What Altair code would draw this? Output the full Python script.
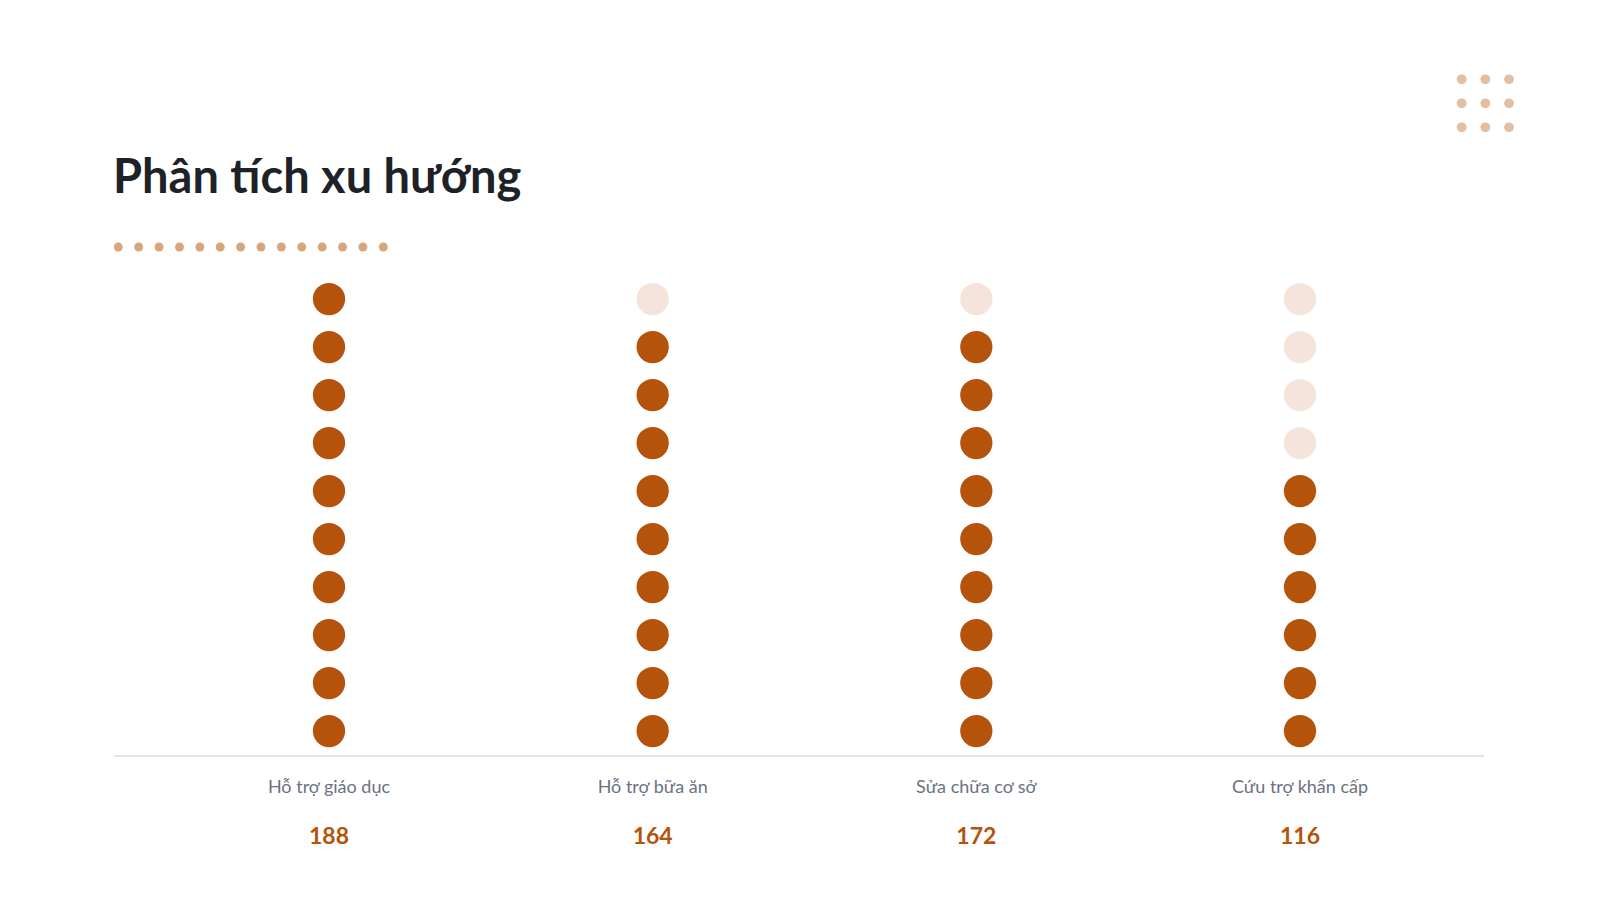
import altair as alt
import pandas as pd

categories = ["Hỗ trợ giáo dục", "Hỗ trợ bữa ăn", "Sửa chữa cơ sở", "Cứu trợ khẩn cấp"]
values = [188, 164, 172, 116]
title_text = "Phân tích xu hướng"
n_rows = 10

FILLED = "#b5530b"
EMPTY = "#f5e4db"
ACCENT = "#d9a57a"
GRID = "#e4bea0"
FONT = "Lato"

vmax = max(values)
rows = []
for c, v in zip(categories, values):
    k = round(v / vmax * n_rows)
    for r in range(1, n_rows + 1):
        rows.append({"cat": c, "row": r, "on": "on" if r <= k else "off"})
dots_df = pd.DataFrame(rows)
lab_df = pd.DataFrame({"cat": categories, "val": [str(v) for v in values]})

xcat = alt.X("cat:N", sort=categories, axis=None,
             scale=alt.Scale(type="point", domain=categories, range=[321, 1292], padding=0))

dots = alt.Chart(dots_df).mark_circle(size=1040, opacity=1).encode(
    x=xcat,
    y=alt.Y("row:Q", axis=None, scale=alt.Scale(domain=[1, n_rows], range=[723, 291])),
    color=alt.Color("on:N", legend=None,
                    scale=alt.Scale(domain=["on", "off"], range=[FILLED, EMPTY])),
)

labels = alt.Chart(lab_df).mark_text(font=FONT, fontSize=18, color="#6b7280",
                                     baseline="alphabetic", align="center").encode(
    x=xcat, y=alt.value(785), text="cat:N")

vals = alt.Chart(lab_df).mark_text(font=FONT, fontSize=23, fontWeight="bold", color=FILLED,
                                   baseline="alphabetic", align="center").encode(
    x=xcat, y=alt.value(836), text="val:N")

base_line = alt.Chart(pd.DataFrame({"a": [0]})).mark_rule(color="#dcdcdc", strokeWidth=1.5).encode(
    x=alt.value(106), x2=alt.value(1476), y=alt.value(748))

title = alt.Chart(pd.DataFrame({"t": [title_text]})).mark_text(
    font=FONT, fontSize=47, fontWeight="bold", color="#1e2228",
    align="left", baseline="alphabetic").encode(
    x=alt.value(105), y=alt.value(185), text="t:N")

accent_df = pd.DataFrame({"i": list(range(14))})
accent = alt.Chart(accent_df).mark_circle(size=80, color=ACCENT, opacity=1).encode(
    x=alt.X("i:Q", axis=None, scale=alt.Scale(domain=[0, 13], range=[110.3, 375.3])),
    y=alt.value(239))

grid_df = pd.DataFrame([{"gx": i, "gy": j} for i in range(3) for j in range(3)])
grid = alt.Chart(grid_df).mark_circle(size=95, color=GRID, opacity=1).encode(
    x=alt.X("gx:Q", axis=None, scale=alt.Scale(domain=[0, 2], range=[1453.7, 1501])),
    y=alt.Y("gy:Q", axis=None, scale=alt.Scale(domain=[0, 2], range=[71.3, 119.3])))

chart = alt.layer(base_line, dots, labels, vals, title, accent, grid).resolve_scale(
    x="independent", y="independent", color="independent"
).properties(
    width=1582, height=884, padding=0, autosize=alt.AutoSizeParams(type="none"),
    background="white"
).configure_view(stroke=None)

chart.save("out.html", embed_options={"renderer": "svg", "actions": False})
